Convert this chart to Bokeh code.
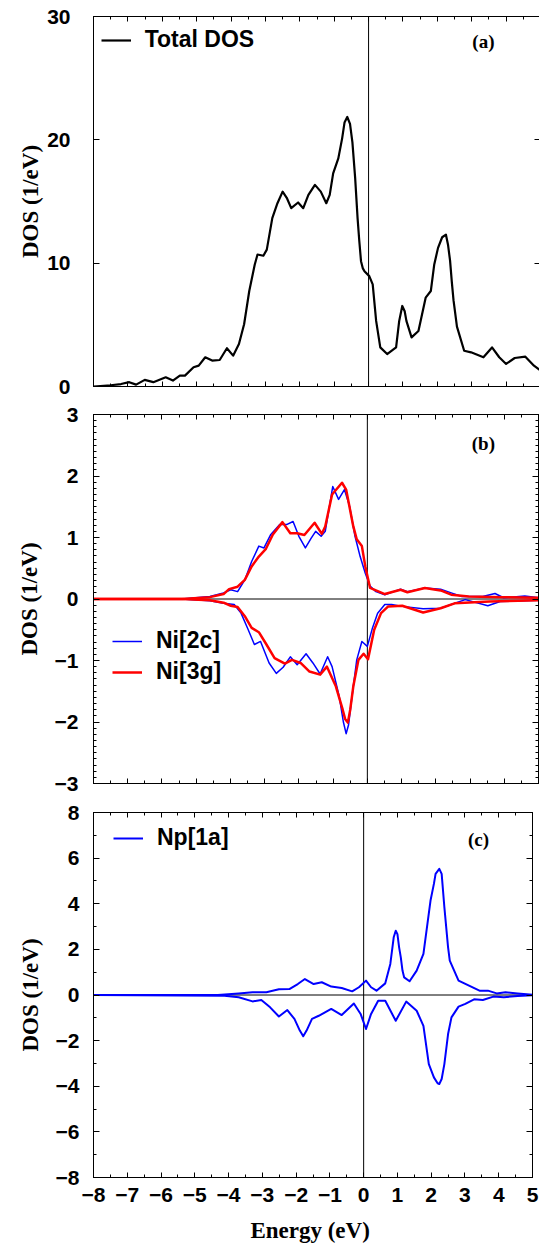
from bokeh.plotting import figure
from bokeh.models import (Range1d, FixedTicker, LinearAxis, Span, Legend,
                          LegendItem, Label)
from bokeh.layouts import column
from bokeh.embed import file_html
from bokeh.resources import INLINE

# ---------------- data ----------------
x_ticks = [-8, -7, -6, -5, -4, -3, -2, -1, 0, 1, 2, 3, 4, 5]
x_tick_labels = ["\u22128", "\u22127", "\u22126", "\u22125", "\u22124", "\u22123",
                 "\u22122", "\u22121", "0", "1", "2", "3", "4", "5"]
ya_ticks = [0, 10, 20, 30]
yb_ticks = [-3, -2, -1, 0, 1, 2, 3]
yb_tick_labels = ["\u22123", "\u22122", "\u22121", "0", "1", "2", "3"]
yc_ticks = [-8, -6, -4, -2, 0, 2, 4, 6, 8]
yc_tick_labels = ["\u22128", "\u22126", "\u22124", "\u22122", "0", "2", "4", "6", "8"]

# (a) Total DOS
tot_e = [-8.0, -7.5, -7.2, -6.96, -6.76, -6.51, -6.26, -5.9, -5.69, -5.49, -5.34, -5.09,
         -4.94, -4.75, -4.55, -4.33, -4.12, -3.94, -3.77, -3.62, -3.47, -3.31, -3.23, -3.06,
         -2.96, -2.80, -2.65, -2.50, -2.38, -2.25, -2.05, -1.90, -1.75, -1.56, -1.39, -1.23,
         -1.13, -1.03, -0.88, -0.77, -0.70, -0.62, -0.54, -0.47, -0.39, -0.32, -0.27, -0.22,
         -0.17, -0.12, 0.02, 0.12, 0.22, 0.34, 0.54, 0.80, 0.89, 0.98, 1.05, 1.10, 1.25, 1.45,
         1.66, 1.81, 1.91, 2.02, 2.14, 2.25, 2.31, 2.37, 2.42, 2.47, 2.57, 2.78, 2.98, 3.34,
         3.59, 3.80, 4.0, 4.25, 4.56, 4.81, 5.0]
tot_dos = [0.0, 0.1, 0.2, 0.35, 0.15, 0.54, 0.35, 0.75, 0.48, 0.88, 0.88, 1.56,
           1.69, 2.37, 2.1, 2.15, 3.1, 2.5, 3.44, 5.05, 7.74, 9.89, 10.7, 10.6,
           11.1, 13.65, 14.86, 15.8, 15.3, 14.46, 14.92, 14.46, 15.54, 16.35, 15.8, 14.86,
           15.54, 17.28, 18.5, 20.1, 21.4, 21.85, 21.3, 19.8, 16.9, 13.65, 11.8, 10.16,
           9.6, 9.35, 8.95, 8.28, 5.32, 3.17, 2.63, 3.17, 5.3, 6.53, 6.1, 5.32, 3.98, 4.5,
           7.2, 7.74, 9.9, 11.24, 12.1, 12.31, 11.5, 10.2, 8.5, 7.0, 4.85, 2.9, 2.77, 2.37,
           3.17, 2.37, 1.83, 2.31, 2.42, 1.69, 1.29]

# (b) Ni[2c] spin up / down
ni2c_up_e = [-8.0, -5.42, -4.6, -4.2, -3.99, -3.79, -3.58, -3.38, -3.17, -3.02,
             -2.82, -2.56, -2.36, -2.17, -2.0, -1.81, -1.64, -1.51, -1.35, -1.23,
             -1.01, -0.84, -0.67, -0.52, -0.36, -0.21, -0.06, 0.08, 0.25, 0.51,
             0.97, 1.17, 1.68, 2.14, 2.45, 2.76, 3.37, 3.73, 3.98, 4.60, 5.0]
ni2c_up = [0.0, 0.0, 0.04, 0.1, 0.15, 0.12, 0.31, 0.61, 0.86, 0.83,
           1.05, 1.21, 1.21, 1.26, 1.02, 0.83, 0.99, 1.10, 1.02, 1.10,
           1.83, 1.62, 1.78, 1.51, 1.02, 0.69, 0.42, 0.21, 0.12, 0.07,
           0.16, 0.12, 0.18, 0.16, 0.10, 0.04, 0.04, 0.09, 0.02, 0.05, 0.02]
ni2c_dn_e = [-8.0, -5.42, -4.6, -4.2, -3.89, -3.69, -3.48, -3.30, -3.12, -2.87,
             -2.66, -2.46, -2.25, -2.05, -1.79, -1.59, -1.38, -1.16, -1.03, -0.82,
             -0.70, -0.62, -0.55, -0.46, -0.31, -0.16, 0.0, 0.15, 0.30, 0.51, 0.71, 1.02,
             1.63, 2.14, 2.45, 2.86, 3.52, 3.88, 5.0]
ni2c_dn = [0.0, 0.0, -0.03, -0.07, -0.09, -0.23, -0.50, -0.74, -0.69, -1.04,
           -1.21, -1.11, -0.94, -1.07, -0.89, -1.04, -1.22, -0.94, -1.10, -1.59,
           -2.0, -2.19, -2.05, -1.64, -0.99, -0.69, -0.77, -0.47, -0.23, -0.09, -0.09, -0.12,
           -0.16, -0.15, -0.09, -0.01, -0.11, -0.04, -0.02]

# (b) Ni[3g] spin up / down
ni3g_up_e = [-8.0, -5.42, -4.6, -4.2, -4.04, -3.79, -3.58, -3.38, -3.17, -2.97,
             -2.76, -2.48, -2.25, -2.05, -1.84, -1.54, -1.33, -1.23, -1.03, -0.74,
             -0.62, -0.41, -0.31, -0.16, -0.06, 0.08, 0.25, 0.51, 0.97, 1.17,
             1.68, 2.14, 2.45, 2.96, 3.98, 5.0]
ni3g_up = [0.0, 0.0, 0.03, 0.08, 0.16, 0.20, 0.31, 0.53, 0.69, 0.81,
           1.05, 1.25, 1.07, 1.07, 1.04, 1.24, 1.06, 1.18, 1.70, 1.89,
           1.78, 1.18, 0.97, 0.86, 0.53, 0.18, 0.14, 0.08, 0.15, 0.11,
           0.18, 0.14, 0.07, 0.04, 0.03, 0.02]
ni3g_dn_e = [-8.0, -5.42, -4.6, -4.2, -3.99, -3.79, -3.58, -3.38, -3.17, -2.97,
             -2.71, -2.41, -2.20, -1.95, -1.69, -1.38, -1.18, -0.92, -0.72, -0.65,
             -0.57, -0.50, -0.41, -0.26, -0.11, 0.02, 0.20, 0.40, 0.61, 1.02, 1.63, 2.14,
             2.55, 3.57, 5.0]
ni3g_dn = [0.0, 0.0, -0.02, -0.06, -0.11, -0.13, -0.28, -0.47, -0.54, -0.72,
           -0.96, -1.05, -0.99, -1.04, -1.18, -1.23, -1.10, -1.42, -1.80, -1.95,
           -2.01, -1.80, -1.42, -0.99, -0.89, -0.98, -0.50, -0.23, -0.12, -0.11, -0.22, -0.15,
           -0.07, -0.04, -0.02]

# (c) Np[1a] spin up / down
np_up_e = [-8.0, -4.32, -3.70, -3.29, -2.88, -2.51, -2.20, -1.95, -1.74, -1.48,
           -1.24, -0.96, -0.65, -0.34, -0.14, 0.07, 0.22, 0.38, 0.64, 0.79,
           0.84, 0.89, 0.95, 1.00, 1.05, 1.10, 1.15, 1.20, 1.36, 1.57, 1.77, 1.98,
           2.08, 2.13, 2.24, 2.31, 2.39, 2.50, 2.55,
           2.81, 3.12, 3.43, 3.68, 3.94, 4.20, 4.56, 5.0]
np_up = [0.0, 0.0, 0.07, 0.12, 0.12, 0.25, 0.26, 0.48, 0.70, 0.48,
         0.56, 0.37, 0.31, 0.16, 0.34, 0.63, 0.34, 0.19, 0.51, 1.36,
         1.94, 2.53, 2.82, 2.67, 2.09, 1.65, 1.07, 0.77, 0.60, 1.07, 1.80, 4.14,
         4.87, 5.31, 5.53, 5.31, 3.85, 2.09, 1.51,
         0.63, 0.41, 0.19, 0.19, 0.07, 0.12, 0.07, 0.01]
np_dn_e = [-8.0, -4.12, -3.70, -3.29, -3.03, -2.77, -2.51, -2.26, -2.05, -1.89, -1.79,
           -1.69, -1.53, -1.33, -0.96, -0.65, -0.29, -0.09, 0.07, 0.22, 0.43, 0.64,
           0.95, 1.26, 1.57, 1.77, 1.93, 2.08, 2.19, 2.24, 2.31, 2.39, 2.50, 2.60, 2.81, 3.01,
           3.27, 3.53, 3.84, 4.15, 4.56, 5.0]
np_dn = [0.0, -0.03, -0.10, -0.28, -0.22, -0.54, -0.94, -0.66, -1.05, -1.56, -1.81,
         -1.56, -1.05, -0.91, -0.61, -0.88, -0.37, -0.83, -1.49, -0.83, -0.25, -0.25,
         -1.13, -0.29, -0.69, -1.35, -3.03, -3.61, -3.87, -3.90, -3.68, -3.03, -1.71, -0.98,
         -0.51, -0.39, -0.19, -0.22, -0.07, -0.10, -0.04, -0.01]

# ---------------- styling helpers ----------------
SANS = "Liberation Sans"
SERIF = "Liberation Serif"
TICK_FS = "21px"
TITLE_FS = "23px"
LEG_FS = "23px"


def x_ticker():
    return FixedTicker(ticks=x_ticks,
                       minor_ticks=[-8 + 0.5 * i for i in range(27)])


def style_axis(ax, ticker, overrides=None, show=True, standoff=10,
               tick_in=6, minor_in=3):
    ax.ticker = ticker
    ax.major_tick_in = tick_in
    ax.major_tick_out = 0
    ax.minor_tick_in = minor_in
    ax.minor_tick_out = 0
    ax.axis_line_color = "black"
    ax.axis_line_width = 1
    ax.major_tick_line_color = "black"
    ax.minor_tick_line_color = "black"
    if show:
        ax.major_label_text_font = SANS
        ax.major_label_text_font_style = "bold"
        ax.major_label_text_font_size = TICK_FS
        ax.major_label_text_color = "black"
        ax.major_label_standoff = standoff
        if overrides:
            ax.major_label_overrides = overrides
    else:
        ax.major_label_text_font_size = "0px"
        ax.major_label_standoff = 0


def make_panel(ylo, yhi, y_tick_fn, y_over, frame_w, frame_h, mb_left, mb_right,
               mb_top, mb_bottom, y_standoff, title_standoff, show_x, y_minor_in=3):
    p = figure(x_range=Range1d(-8, 5), y_range=Range1d(ylo, yhi),
               frame_width=frame_w, frame_height=frame_h,
               min_border_left=mb_left, min_border_right=mb_right,
               min_border_top=mb_top, min_border_bottom=mb_bottom,
               output_backend="svg", toolbar_location=None)
    p.grid.visible = False
    p.outline_line_color = "black"
    p.outline_line_width = 1
    p.background_fill_color = "white"
    p.border_fill_color = "white"

    xo = dict(zip(x_ticks, x_tick_labels))
    style_axis(p.below[0], x_ticker(), overrides=xo, show=show_x, standoff=10,
               tick_in=5, minor_in=3)
    style_axis(p.left[0], y_tick_fn(), overrides=y_over, show=True,
               standoff=y_standoff, tick_in=6, minor_in=y_minor_in)
    p.left[0].axis_label = "DOS (1/eV)"
    p.left[0].axis_label_text_font = SERIF
    p.left[0].axis_label_text_font_style = "bold"
    p.left[0].axis_label_text_font_size = TITLE_FS
    p.left[0].axis_label_text_color = "black"
    p.left[0].axis_label_standoff = title_standoff

    top = LinearAxis()
    style_axis(top, x_ticker(), show=False, tick_in=5, minor_in=3)
    p.add_layout(top, "above")
    right = LinearAxis()
    style_axis(right, y_tick_fn(), show=False, tick_in=6, minor_in=y_minor_in)
    p.add_layout(right, "right")

    p.add_layout(Span(location=0, dimension="height", line_color="black",
                      line_width=1, level="underlay"))
    return p


def legend_for(items, loc):
    return Legend(items=items, location=loc, label_text_font=SANS,
                  label_text_font_style="bold", label_text_font_size=LEG_FS,
                  label_text_color="black", glyph_width=30, glyph_height=26,
                  label_height=26, label_standoff=14, spacing=4, padding=0,
                  margin=0, border_line_alpha=0, background_fill_alpha=0)


def panel_label(txt, x, y):
    return Label(x=x, y=y, text=txt, text_font=SERIF, text_font_style="bold",
                 text_font_size="19px", text_color="black",
                 text_align="center", text_baseline="middle")


# ---------------- panel (a) ----------------
pa = make_panel(0, 30, lambda: FixedTicker(ticks=ya_ticks, minor_ticks=[]),
                None, 447, 370, 91, 1, 16, 14, 23, 1, False, y_minor_in=0)
ra = pa.line(tot_e, tot_dos, line_color="black", line_width=2.2, line_join="round")
pa.add_layout(legend_for([LegendItem(label="Total DOS", renderers=[ra])], (18, 333)))
pa.add_layout(panel_label("(a)", 3.34, 28.0))

# ---------------- panel (b) ----------------
pb = make_panel(-3, 3, lambda: FixedTicker(ticks=yb_ticks,
                                           minor_ticks=[round(-3 + 0.1 * i, 2) for i in range(61)]),
                dict(zip(yb_ticks, yb_tick_labels)), 445, 369, 93, 1, 14, 14, 15, 10,
                False, y_minor_in=3)
pb.add_layout(Span(location=0, dimension="width", line_color="black",
                   line_width=1, level="underlay"))
rb1 = pb.line(ni2c_up_e, ni2c_up, line_color="#0000ff", line_width=1.5, line_join="round")
pb.line(ni2c_dn_e, ni2c_dn, line_color="#0000ff", line_width=1.5, line_join="round")
rb2 = pb.line(ni3g_up_e, ni3g_up, line_color="#ff0000", line_width=2.5, line_join="round")
pb.line(ni3g_dn_e, ni3g_dn, line_color="#ff0000", line_width=2.5, line_join="round")
pb.add_layout(legend_for([LegendItem(label="Ni[2c]", renderers=[rb1]),
                          LegendItem(label="Ni[3g]", renderers=[rb2])], (19, 98)))
pb.add_layout(panel_label("(b)", 3.39, 2.53))

# ---------------- panel (c) ----------------
pc = make_panel(-8, 8, lambda: FixedTicker(ticks=yc_ticks, minor_ticks=list(range(-8, 9))),
                dict(zip(yc_ticks, yc_tick_labels)), 439, 365, 92, 8, 15, 66, 14, 10,
                True, y_minor_in=3)
pc.below[0].axis_label = "Energy  (eV)"
pc.below[0].axis_label_text_font = SERIF
pc.below[0].axis_label_text_font_style = "bold"
pc.below[0].axis_label_text_font_size = TITLE_FS
pc.below[0].axis_label_text_color = "black"
pc.below[0].axis_label_standoff = 13
pc.add_layout(Span(location=0, dimension="width", line_color="black",
                   line_width=1, level="underlay"))
rc = pc.line(np_up_e, np_up, line_color="#0000ff", line_width=2, line_join="round")
pc.line(np_dn_e, np_dn, line_color="#0000ff", line_width=2, line_join="round")
pc.add_layout(legend_for([LegendItem(label="Np[1a]", renderers=[rc])], (20, 326)))
pc.add_layout(panel_label("(c)", 3.40, 6.82))

layout = column(pa, pb, pc, spacing=0)
open("out.html", "w").write(file_html(layout, INLINE))
